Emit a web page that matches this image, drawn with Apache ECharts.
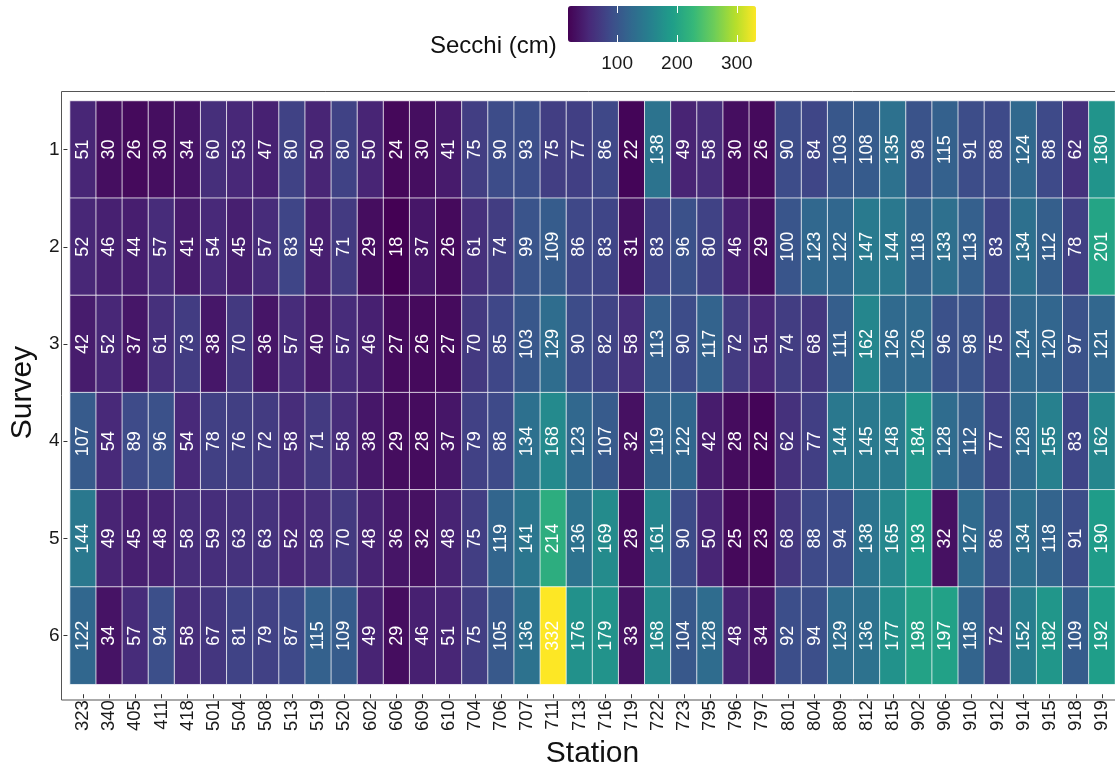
<!DOCTYPE html>
<html>
<head>
<meta charset="utf-8">
<script src="https://cdn.jsdelivr.net/npm/echarts@6/dist/echarts.min.js"></script>
<style>
html,body{margin:0;padding:0;background:#fff;}
#chart{width:1115px;height:774px;}
</style>
</head>
<body>
<div id="chart"></div>
<script>
const stations = ['323','340','405','411','418','501','504','508','513','519','520','602','606','609','610','704','706','707','711','713','716','719','722','723','795','796','797','801','804','809','812','815','902','906','910','912','914','915','918','919'];
const surveys = ['1','2','3','4','5','6'];
const survey1 = [51,30,26,30,34,60,53,47,80,50,80,50,24,30,41,75,90,93,75,77,86,22,138,49,58,30,26,90,84,103,108,135,98,115,91,88,124,88,62,180];
const survey2 = [52,46,44,57,41,54,45,57,83,45,71,29,18,37,26,61,74,99,109,86,83,31,83,96,80,46,29,100,123,122,147,144,118,133,113,83,134,112,78,201];
const survey3 = [42,52,37,61,73,38,70,36,57,40,57,46,27,26,27,70,85,103,129,90,82,58,113,90,117,72,51,74,68,111,162,126,126,96,98,75,124,120,97,121];
const survey4 = [107,54,89,96,54,78,76,72,58,71,58,38,29,28,37,79,88,134,168,123,107,32,119,122,42,28,22,62,77,144,145,148,184,128,112,77,128,155,83,162];
const survey5 = [144,49,45,48,58,59,63,63,52,58,70,48,36,32,48,75,119,141,214,136,169,28,161,90,50,25,23,68,88,94,138,165,193,32,127,86,134,118,91,190];
const survey6 = [122,34,57,94,58,67,81,79,87,115,109,49,29,46,51,75,105,136,332,176,179,33,168,104,128,48,34,92,94,129,136,177,198,197,118,72,152,182,109,192];
const legendTicks = [100, 200, 300];
const legendTitle = 'Secchi (cm)';

const rows = [survey1, survey2, survey3, survey4, survey5, survey6];
const data = [];
rows.forEach((row, j) => row.forEach((v, i) => data.push([i, j, v])));
const allVals = rows.flat();
const vMin = Math.min(...allVals), vMax = Math.max(...allVals);

const viridis = ['#440154','#482878','#3E4A89','#31688E','#26828E','#1F9E89','#35B779','#6DCD59','#B4DE2C','#FDE725'];
const FONT = 'Liberation Sans, Arial, sans-serif';

const chart = echarts.init(document.getElementById('chart'), null, {renderer: 'canvas'});
chart.setOption({
  backgroundColor: '#fff',
  animation: false,
  textStyle: {fontFamily: FONT},
  title: {
    text: legendTitle, left: 425, top: 29,
    textStyle: {fontFamily: FONT, fontSize: 24, fontWeight: 'normal', color: '#111'}
  },
  graphic: [{
    type: 'rect', z: 100, silent: true,
    shape: {x: 61.5, y: 91.5, width: 1058, height: 608.5},
    style: {fill: 'none', stroke: '#555', lineWidth: 1}
  }],
  grid: [
    {left: 63.6, top: 101, width: 1053.3, height: 589},
    {left: 568, top: 6, width: 188, height: 36}
  ],
  xAxis: [{
    type: 'category', data: stations, gridIndex: 0, position: 'bottom', offset: 10,
    axisLine: {show: false},
    axisTick: {show: true, alignWithLabel: true, length: 4, lineStyle: {color: '#333'}},
    axisLabel: {rotate: 90, interval: 0, margin: 6, fontSize: 18.5, color: '#1a1a1a', fontFamily: FONT},
    splitLine: {show: false},
    name: 'Station', nameLocation: 'middle', nameGap: 38,
    nameTextStyle: {fontSize: 30, color: '#111', fontFamily: FONT}
  }, {
    type: 'value', gridIndex: 1, min: vMin, max: vMax, position: 'bottom', z: 10,
    axisLine: {show: false},
    axisTick: {show: true, inside: true, length: 7, customValues: legendTicks, lineStyle: {color: '#fff', width: 1}},
    axisLabel: {show: true, customValues: legendTicks, margin: 12, fontSize: 19, color: '#1a1a1a', fontFamily: FONT},
    splitLine: {show: false}
  }, {
    type: 'value', gridIndex: 1, min: vMin, max: vMax, position: 'top', z: 10,
    axisLine: {show: false},
    axisTick: {show: true, inside: true, length: 7, customValues: legendTicks, lineStyle: {color: '#fff', width: 1}},
    axisLabel: {show: false},
    splitLine: {show: false}
  }],
  yAxis: [{
    type: 'category', data: surveys, gridIndex: 0, inverse: true, offset: 2.6,
    axisLine: {show: false},
    axisTick: {show: true, alignWithLabel: true, length: 4, lineStyle: {color: '#333'}},
    axisLabel: {margin: 8, fontSize: 19, color: '#1a1a1a', fontFamily: FONT},
    splitLine: {show: false},
    name: 'Survey', nameLocation: 'middle', nameGap: 20, nameRotate: 90,
    nameTextStyle: {fontSize: 30, color: '#111', fontFamily: FONT}
  }, {
    type: 'value', gridIndex: 1, min: 0, max: 1, show: false
  }],
  visualMap: {
    type: 'continuous', seriesIndex: 0, dimension: 2,
    min: vMin, max: vMax, orient: 'horizontal',
    left: 568, top: 6, itemWidth: 36, itemHeight: 188, padding: 0,
    calculable: false, hoverLink: false, text: null, showLabel: false,
    inRange: {color: viridis}
  },
  series: [{
    type: 'heatmap', xAxisIndex: 0, yAxisIndex: 0, data: data,
    itemStyle: {borderColor: 'rgba(255,255,255,0.75)', borderWidth: 1},
    label: {show: true, rotate: 90, color: '#fff', fontSize: 18, fontFamily: FONT},
    emphasis: {disabled: true}
  }]
});
</script>
</body>
</html>
